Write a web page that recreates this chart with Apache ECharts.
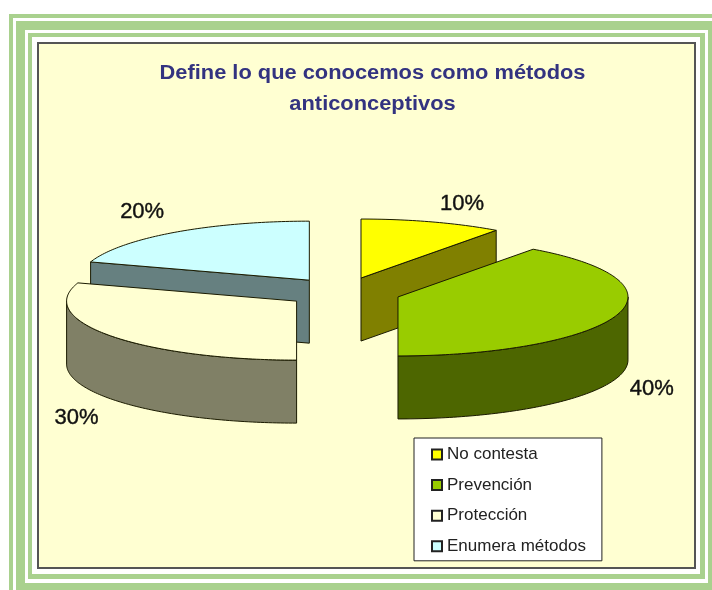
<!DOCTYPE html>
<html>
<head>
<meta charset="utf-8">
<title>Métodos anticonceptivos</title>
<style>
	html, body { margin: 0; padding: 0; background: #fff; }
	#chart { width: 712px; height: 590px; }
</style>
<script src="https://cdn.jsdelivr.net/npm/echarts@6/dist/echarts.min.js"></script>
</head>
<body>
<div id="chart"></div>
<script>
// datos
const categories = ['No contesta', 'Prevención', 'Protección', 'Enumera métodos']
const percents = [10, 40, 30, 20]

// colores: cara superior y pared lateral
const topColors = ['#FFFF00', '#99CC00', '#FFFFD2', '#CCFFFF']
const sideColors = ['#808000', '#4D6600', '#808066', '#668080']

// geometria del pastel 3D
const pie = { cx: 343.2, cy: 292.3, rx: 230, ry: 59, depth: 63, explodeX: 57.6, explodeY: 15 }
// desplazamiento de cada etiqueta respecto al borde de su porcion
const labelOffsets = [[30, -18], [35, 74], [-34, 82], [-32, -20]]

const total = percents.reduce((a, b) => a + b, 0)
const angles = []
let acc = 0
percents.forEach((v) => {
	const start = (acc / total) * Math.PI * 2
	acc += v
	angles.push([start, (acc / total) * Math.PI * 2])
})

function ellipsePoint(c, a, dy) {
	return [c[0] + pie.rx * Math.sin(a), c[1] - pie.ry * Math.cos(a) + (dy || 0)]
}

function arcPoints(c, a0, a1, dy) {
	const pts = []
	const steps = Math.max(2, Math.ceil(Math.abs(a1 - a0) / (Math.PI / 180)))
	for (let i = 0; i <= steps; i++) {
		pts.push(ellipsePoint(c, a0 + ((a1 - a0) * i) / steps, dy))
	}
	return pts
}

function poly(points, fill) {
	return {
		type: 'polygon',
		shape: { points: points },
		style: { fill: fill, stroke: '#1a1a00', lineWidth: 1 },
	}
}

function renderSlice(params) {
	const i = params.seriesIndex
	const a0 = angles[i][0]
	const a1 = angles[i][1]
	const mid = (a0 + a1) / 2
	const c = [pie.cx + pie.explodeX * Math.sin(mid), pie.cy - pie.explodeY * Math.cos(mid)]
	const d = pie.depth
	const children = []

	// paredes radiales visibles
	const eps = 1e-6
	if (Math.sin(a1) > eps) {
		const p = ellipsePoint(c, a1)
		children.push(poly([c, p, [p[0], p[1] + d], [c[0], c[1] + d]], sideColors[i]))
	}
	if (Math.sin(a0) < -eps) {
		const p = ellipsePoint(c, a0)
		children.push(poly([c, p, [p[0], p[1] + d], [c[0], c[1] + d]], sideColors[i]))
	}
	// pared exterior, solo la mitad delantera
	const from = Math.max(a0, Math.PI / 2)
	const to = Math.min(a1, (Math.PI * 3) / 2)
	if (to > from) {
		const up = arcPoints(c, from, to, 0)
		const down = arcPoints(c, to, from, d)
		children.push(poly(up.concat(down), sideColors[i]))
	}
	// cara superior
	children.push(poly([c].concat(arcPoints(c, a0, a1, 0)), topColors[i]))

	// etiqueta de porcentaje
	const edge = ellipsePoint(c, mid)
	children.push({
		type: 'text',
		style: {
			x: edge[0] + labelOffsets[i][0],
			y: edge[1] + labelOffsets[i][1],
			text: percents[i] + '%',
			align: 'center',
			verticalAlign: 'middle',
			fill: '#111',
			stroke: '#111',
			lineWidth: 0.4,
			font: '22px "Liberation Sans"',
		},
	})
	return { type: 'group', children: children }
}

const chart = echarts.init(document.getElementById('chart'))

// marcos verdes y blancos alrededor del grafico
const frames = [
	[9, 14, 703, 576, '#A9D18E'],
	[13, 18, 699, 572, '#fff'],
	[16, 21, 696, 569, '#A9D18E'],
	[25, 30, 683, 553, '#fff'],
	[28, 33, 677, 546, '#A9D18E'],
	[32, 37, 668, 537, '#fff'],
]

const option = {
	backgroundColor: '#fff',
	animation: false,
	graphic: frames
		.map((f) => ({
			type: 'rect',
			silent: true,
			z: -10,
			shape: { x: f[0], y: f[1], width: f[2], height: f[3] },
			style: { fill: f[4] },
		}))
		.concat([
			{
				type: 'rect',
				silent: true,
				z: -9,
				shape: { x: 38, y: 43, width: 657, height: 525 },
				style: { fill: '#FFFFD2', stroke: '#555', lineWidth: 2 },
			},
			// titulo: en el original va con las letras mas separadas
			{
				type: 'text',
				silent: true,
				z: 1,
				x: 372.5,
				y: 58,
				scaleX: 1.12,
				style: {
					text: 'Define lo que conocemos como métodos\nanticonceptivos',
					align: 'center',
					fill: '#333380',
					font: 'bold 19.5px "Liberation Sans"',
					lineHeight: 31,
				},
			},
		]),
	legend: {
		data: categories,
		orient: 'vertical',
		left: 414,
		top: 438,
		padding: [8, 16, 6, 17],
		itemGap: 13.6,
		itemWidth: 10,
		itemHeight: 10,
		icon: 'rect',
		backgroundColor: '#fff',
		borderColor: '#222',
		borderWidth: 1,
		selectedMode: false,
		textStyle: { color: '#222', fontFamily: 'Liberation Sans', fontSize: 17 },
	},
	// una serie por porcion; se dibujan de atras hacia adelante
	series: categories.map((name, i) => ({
		type: 'custom',
		name: name,
		coordinateSystem: 'none',
		silent: true,
		z: Math.round(5 - 4 * Math.cos((angles[i][0] + angles[i][1]) / 2)),
		itemStyle: { color: topColors[i], borderColor: '#222', borderWidth: 1 },
		renderItem: renderSlice,
		data: [{ name: name, value: percents[i] }],
	})),
}
chart.setOption(option)
</script>
</body>
</html>
